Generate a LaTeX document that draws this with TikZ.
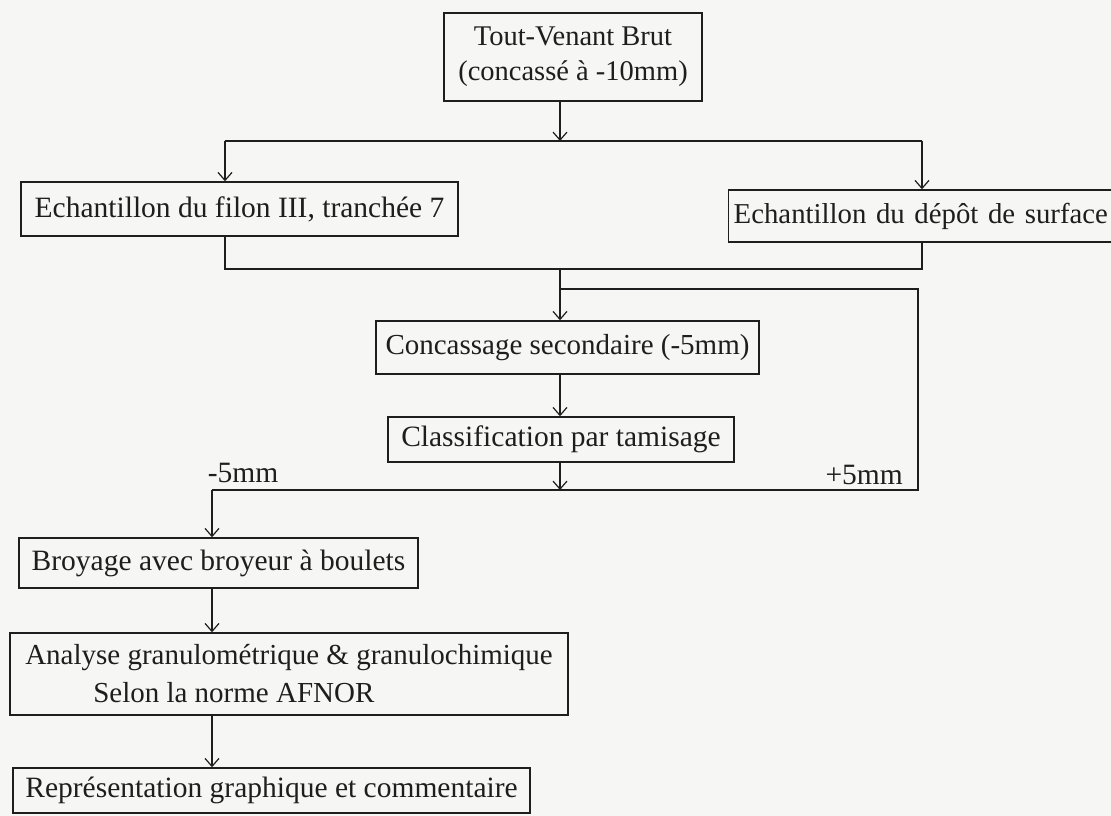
\documentclass[tikz,border=0pt]{standalone}
\usepackage{fontspec}
\setmainfont{Liberation Serif}
\usetikzlibrary{arrows.meta}
\definecolor{paper}{RGB}{246,246,244}
\definecolor{ink}{RGB}{30,30,30}
\begin{document}
\begin{tikzpicture}[x=1pt,y=-1pt,
  txt/.style={font=\fontsize{29.5}{35}\selectfont, text=ink},
  box/.style={txt, draw=ink, line width=1.4pt, inner sep=0pt},
  flow/.style={draw=ink, line width=1.2pt},
  arr/.style={flow, -{Straight Barb[length=8pt,width=14pt,line width=1.2pt]}},
  lbl/.style={txt, inner sep=0pt}]
\useasboundingbox (0,0) rectangle (1111,816);
\fill[paper] (0,0) rectangle (1111,816);
\clip (0,0) rectangle (1111,816);

% process boxes
\node[box, font=\fontsize{28.5}{35}\selectfont, minimum width=258pt, minimum height=88pt,
      align=center] (brut) at (573,57)
  {Tout-Venant Brut\\(concassé à -10mm)};
\node[box, minimum width=437pt, minimum height=54pt] (filon) at (239.5,209)
  {Echantillon du filon III, tranchée 7};
\node[box, font=\fontsize{28.8}{35}\selectfont, anchor=west, minimum height=52pt,
      text width=390pt, align=left, inner xsep=5pt] (depot) at (728,216)
  {Echantillon du dépôt de surface};
\node[box, font=\fontsize{29}{35}\selectfont, minimum width=383pt, minimum height=53pt]
  (conc) at (567.5,347.5)
  {Concassage secondaire (-5mm)};
\node[box, minimum width=346pt, minimum height=45pt] (tamis) at (561,439.5)
  {Classification par tamisage};
\node[box, minimum width=399pt, minimum height=50pt] (broy) at (218.5,563)
  {Broyage avec broyeur à boulets};
\node[box, font=\fontsize{29}{38}\selectfont, minimum width=558pt, minimum height=82pt,
      align=left] (gran) at (289,674)
  {Analyse granulométrique \& granulochimique\\\hspace{68pt}Selon la norme AFNOR};
\node[box, minimum width=517pt, minimum height=45pt] (repr) at (271.5,790.5)
  {Représentation graphique et commentaire};

% sieve outputs
\node[lbl] (moins) at (243,473) {-5mm};
\node[lbl, anchor=east] (plus) at (903,475) {+5mm};

% junction points
\coordinate (split)  at (560,141);
\coordinate (splitL) at (225,141);
\coordinate (splitR) at (922,141);
\coordinate (mergeL) at (225,269);
\coordinate (mergeC) at (560,269);
\coordinate (mergeR) at (922,269);
\coordinate (backC)  at (560,289);
\coordinate (backT)  at (918,289);
\coordinate (backB)  at (918,490);
\coordinate (sieveC) at (560,490);
\coordinate (sieveL) at (212,490);

% split of the run-of-mine ore
\draw[arr] (brut.south -| split) -- (split);
\draw[flow] (splitL) -- (splitR);
\draw[arr] (splitL) -- (filon.north -| splitL);
\draw[arr] (splitR) -- (depot.north -| splitR);

% both samples joined
\draw[flow] (filon.south -| mergeL) -- (mergeL) -- (mergeR) -- (depot.south -| mergeR);
\draw[arr] (mergeC) -- (conc.north -| mergeC);
\draw[arr] (conc.south -| mergeC) -- (tamis.north -| mergeC);

% screening: +5mm back to crushing, -5mm to grinding
\draw[arr] (tamis.south -| sieveC) -- (sieveC);
\draw[flow] (sieveL) -- (backB) -- (backT) -- (backC);
\draw[arr] (sieveL) -- (broy.north -| sieveL);
\draw[arr] (broy.south -| sieveL) -- (gran.north -| sieveL);
\draw[arr] (gran.south -| sieveL) -- (repr.north -| sieveL);
\end{tikzpicture}
\end{document}
